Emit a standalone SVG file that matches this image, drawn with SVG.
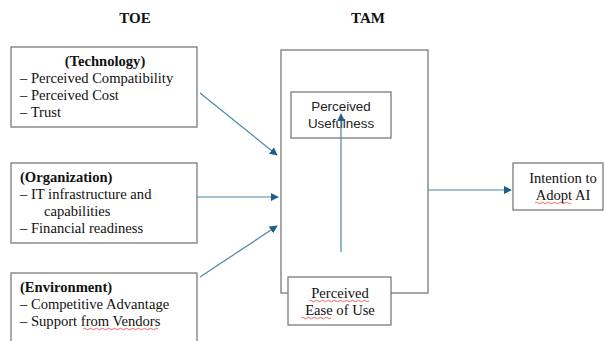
<svg xmlns="http://www.w3.org/2000/svg" width="605" height="341" viewBox="0 0 605 341">
<style>
.box{fill:#fff;stroke:#7a7a7a;stroke-width:1.3}
.t{font-family:"Liberation Serif","Times New Roman",serif;font-size:14.6px;fill:#111}
.b{font-weight:bold}
.h{font-size:15px}
.s{font-family:"Liberation Sans",Arial,sans-serif;font-size:13.4px;fill:#222}
.c{stroke:#4a86a8;stroke-width:1.2;fill:none}
.sq{stroke:#e04040;stroke-width:0.8;fill:none}
</style>
<defs>
<marker id="ah" viewBox="0 0 10 10" refX="9" refY="5" markerWidth="8" markerHeight="8" markerUnits="userSpaceOnUse" orient="auto">
<path d="M0,0 L10,5 L0,10 z" fill="#1f5f85"/>
</marker>
</defs>
<rect width="605" height="341" fill="#fff"/>
<text class="t b h" x="135" y="23" text-anchor="middle">TOE</text>
<text class="t b h" x="368" y="23" text-anchor="middle">TAM</text>
<g id="technology">
<rect class="box" x="11" y="47" width="186" height="80"/>
<text class="t b" x="105" y="66" text-anchor="middle">(Technology)</text>
<text class="t" x="20" y="83">– Perceived Compatibility</text>
<text class="t" x="20" y="100">– Perceived Cost</text>
<text class="t" x="20" y="117">– Trust</text>
</g>
<g id="organization">
<rect class="box" x="11" y="163" width="186" height="80"/>
<text class="t b" x="20" y="182">(Organization)</text>
<text class="t" x="20" y="199">– IT infrastructure and</text>
<text class="t" x="44" y="216">capabilities</text>
<text class="t" x="20" y="233">– Financial readiness</text>
</g>
<g id="environment">
<rect class="box" x="11" y="273" width="186" height="75"/>
<text class="t b" x="20" y="292">(Environment)</text>
<text class="t" x="20" y="309">– Competitive Advantage</text>
<text class="t" x="20" y="326">– Support from Vendors</text>
<path class="sq" d="M83,329 q1.5,-1.5 3,0 t3,0 t3,0 t3,0 t3,0 t3,0 t3,0 t3,0 t3,0 t3,0 t3,0 t3,0 t3,0 t3,0 t3,0 t3,0 t3,0 t3,0 t3,0 t3,0 t3,0 t3,0 t3,0 t3,0 t3,0"/>
</g>
<g id="tam">
<rect class="box" x="281" y="50" width="147" height="243"/>
</g>
<g id="usefulness">
<rect class="box" x="291" y="92" width="100" height="46"/>
<text class="s" x="341" y="111" text-anchor="middle">Perceived</text>
<text class="s" x="341" y="128" text-anchor="middle">Usefulness</text>
</g>
<g id="ease">
<rect class="box" x="288" y="277" width="103" height="48"/>
<text class="t" x="340" y="298" text-anchor="middle">Perceived</text>
<text class="t" x="340" y="315" text-anchor="middle">Ease of Use</text>
<path class="sq" d="M309,301 q1.5,-1.5 3,0 t3,0 t3,0 t3,0 t3,0 t3,0 t3,0 t3,0 t3,0 t3,0 t3,0 t3,0 t3,0 t3,0 t3,0 t3,0 t3,0 t3,0 t3,0 t3,0"/>
<path class="sq" d="M301,318 q1.5,-1.5 3,0 t3,0 t3,0 t3,0 t3,0 t3,0 t3,0 t3,0 t3,0 t3,0"/>
</g>
<g id="intention">
<rect class="box" x="513" y="163" width="90" height="47"/>
<text class="t" x="563" y="183" text-anchor="middle">Intention to</text>
<text class="t" x="563" y="200" text-anchor="middle">Adopt AI</text>
<path class="sq" d="M535,203 q1.5,-1.5 3,0 t3,0 t3,0 t3,0 t3,0 t3,0 t3,0 t3,0 t3,0 t3,0 t3,0 t3,0"/>
</g>
<g id="connectors">
<line class="c" x1="200" y1="93" x2="277" y2="155" marker-end="url(#ah)"/>
<line class="c" x1="197" y1="197" x2="278" y2="197" marker-end="url(#ah)"/>
<line class="c" x1="200" y1="277" x2="277" y2="226" marker-end="url(#ah)"/>
<line class="c" x1="341" y1="252" x2="341" y2="114" marker-end="url(#ah)"/>
<line class="c" x1="428" y1="190" x2="511" y2="190" marker-end="url(#ah)"/>
</g>
</svg>
